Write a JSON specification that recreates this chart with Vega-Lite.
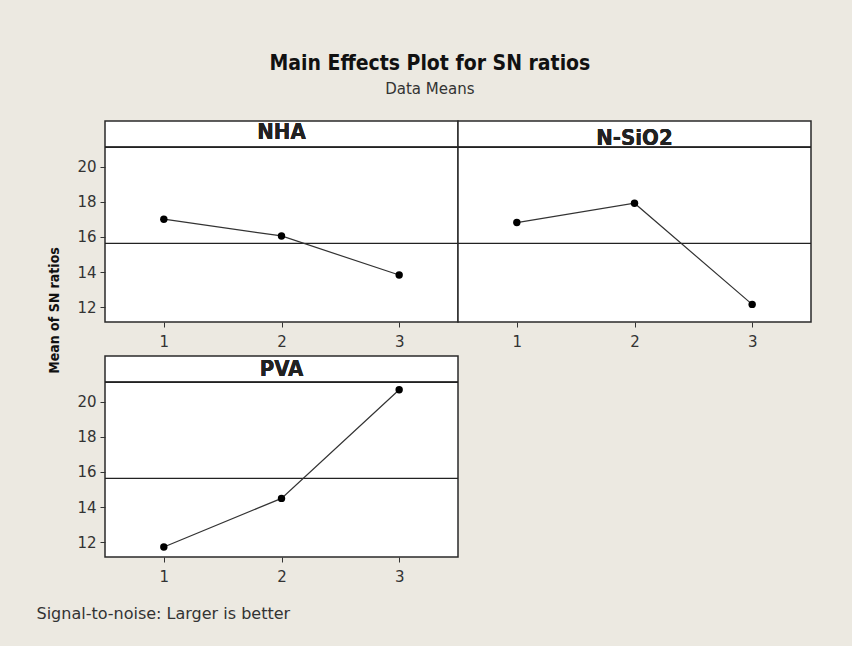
{
  "$schema": "https://vega.github.io/schema/vega-lite/v6.json",
  "background": "#ECE9E1",
  "padding": {"left": 35, "top": 53, "right": 43, "bottom": 25},
  "title": {
    "text": "Main Effects Plot for SN ratios",
    "subtitle": "Data Means",
    "anchor": "middle",
    "dx": 6,
    "font": "DejaVu Sans Condensed",
    "fontSize": 21,
    "fontWeight": "bold",
    "color": "#111111",
    "subtitleFont": "DejaVu Sans",
    "subtitleFontSize": 15,
    "subtitleColor": "#333333",
    "subtitlePadding": 8,
    "offset": 23
  },
  "datasets": {
    "means": [
      {"factor": "NHA", "level": 1, "value": 17.01},
      {"factor": "NHA", "level": 2, "value": 16.06},
      {"factor": "NHA", "level": 3, "value": 13.84},
      {"factor": "N-SiO2", "level": 1, "value": 16.82},
      {"factor": "N-SiO2", "level": 2, "value": 17.92},
      {"factor": "N-SiO2", "level": 3, "value": 12.17},
      {"factor": "PVA", "level": 1, "value": 11.74},
      {"factor": "PVA", "level": 2, "value": 14.5},
      {"factor": "PVA", "level": 3, "value": 20.67}
    ]
  },
  "bounds": "flush",
  "columns": 2,
  "spacing": {"row": 34, "column": 0},
  "concat": [
    {
      "width": 353,
      "height": 201,
      "data": {"name": "means"},
      "transform": [{"filter": "datum.factor === 'NHA'"}],
      "encoding": {
        "x": {"field": "level", "type": "quantitative", "scale": {"domain": [0.5, 3.5], "nice": false, "zero": false},
              "axis": {"values": [1, 2, 3], "format": "d", "title": null}},
        "y": {"field": "value", "type": "quantitative", "scale": {"domain": [11.17, 22.59], "nice": false, "zero": false},
              "axis": {"values": [12, 14, 16, 18, 20], "format": "d", "title": "Mean of SN ratios",
                       "titleX": -51, "titleY": 189, "titleAngle": 270, "titleAlign": "center", "titleBaseline": "middle",
                       "titleFontSize": 14, "titleFontWeight": "bold", "titleColor": "#111111", "titleFont": "DejaVu Sans Condensed"}}
      },
      "layer": [
        {"mark": {"type": "rule", "color": "#222222", "strokeWidth": 1.2}, "encoding": {"x": null, "y": {"aggregate": "mean", "field": "value", "type": "quantitative"}}},
        {"mark": {"type": "rule", "color": "#222222", "strokeWidth": 1.5}, "encoding": {"x": null, "y": {"datum": 21.1}}},
        {"mark": {"type": "line", "color": "#333333", "strokeWidth": 1.2}},
        {"mark": {"type": "point", "filled": true, "size": 55, "color": "#000000", "opacity": 1}},
        {"mark": {"type": "text", "font": "DejaVu Sans Condensed", "fontSize": 22, "fontWeight": "bold", "color": "#222222", "baseline": "middle"},
         "encoding": {"x": {"datum": 2}, "y": {"datum": 21.95}, "text": {"value": "NHA"}}}
      ]
    },
    {
      "width": 353,
      "height": 201,
      "data": {"name": "means"},
      "transform": [{"filter": "datum.factor === 'N-SiO2'"}],
      "encoding": {
        "x": {"field": "level", "type": "quantitative", "scale": {"domain": [0.5, 3.5], "nice": false, "zero": false},
              "axis": {"values": [1, 2, 3], "format": "d", "title": null}},
        "y": {"field": "value", "type": "quantitative", "scale": {"domain": [11.17, 22.59], "nice": false, "zero": false}, "axis": null}
      },
      "layer": [
        {"mark": {"type": "rule", "color": "#222222", "strokeWidth": 1.2}, "encoding": {"x": null, "y": {"aggregate": "mean", "field": "value", "type": "quantitative"}}},
        {"mark": {"type": "rule", "color": "#222222", "strokeWidth": 1.5}, "encoding": {"x": null, "y": {"datum": 21.1}}},
        {"mark": {"type": "line", "color": "#333333", "strokeWidth": 1.2}},
        {"mark": {"type": "point", "filled": true, "size": 55, "color": "#000000", "opacity": 1}},
        {"mark": {"type": "text", "font": "DejaVu Sans Condensed", "fontSize": 22, "fontWeight": "bold", "color": "#222222", "baseline": "middle"},
         "encoding": {"x": {"datum": 2}, "y": {"datum": 21.62}, "text": {"value": "N-SiO2"}}}
      ]
    },
    {
      "width": 353,
      "height": 201,
      "data": {"name": "means"},
      "transform": [{"filter": "datum.factor === 'PVA'"}],
      "encoding": {
        "x": {"field": "level", "type": "quantitative", "scale": {"domain": [0.5, 3.5], "nice": false, "zero": false},
              "axis": {"values": [1, 2, 3], "format": "d", "title": "Signal-to-noise: Larger is better",
                       "titleX": -69, "titleY": 56, "titleAlign": "left", "titleBaseline": "middle",
                       "titleFontSize": 16, "titleFontWeight": "normal", "titleColor": "#333333", "titleFont": "DejaVu Sans"}},
        "y": {"field": "value", "type": "quantitative", "scale": {"domain": [11.17, 22.59], "nice": false, "zero": false},
              "axis": {"values": [12, 14, 16, 18, 20], "format": "d", "title": null}}
      },
      "layer": [
        {"mark": {"type": "rule", "color": "#222222", "strokeWidth": 1.2}, "encoding": {"x": null, "y": {"aggregate": "mean", "field": "value", "type": "quantitative"}}},
        {"mark": {"type": "rule", "color": "#222222", "strokeWidth": 1.5}, "encoding": {"x": null, "y": {"datum": 21.1}}},
        {"mark": {"type": "line", "color": "#333333", "strokeWidth": 1.2}},
        {"mark": {"type": "point", "filled": true, "size": 55, "color": "#000000", "opacity": 1}},
        {"mark": {"type": "text", "font": "DejaVu Sans Condensed", "fontSize": 22, "fontWeight": "bold", "color": "#222222", "baseline": "middle"},
         "encoding": {"x": {"datum": 2}, "y": {"datum": 21.85}, "text": {"value": "PVA"}}}
      ]
    }
  ],
  "config": {
    "view": {"fill": "#FFFFFF", "stroke": "#2A2A2A", "strokeWidth": 1.5},
    "axis": {
      "domain": false,
      "grid": false,
      "ticks": true,
      "tickSize": 5,
      "tickColor": "#333333",
      "labelFont": "DejaVu Sans",
      "labelFontSize": 15,
      "labelColor": "#333333"
    },
    "axisX": {"labelPadding": 7},
    "axisY": {"labelPadding": 4}
  }
}
